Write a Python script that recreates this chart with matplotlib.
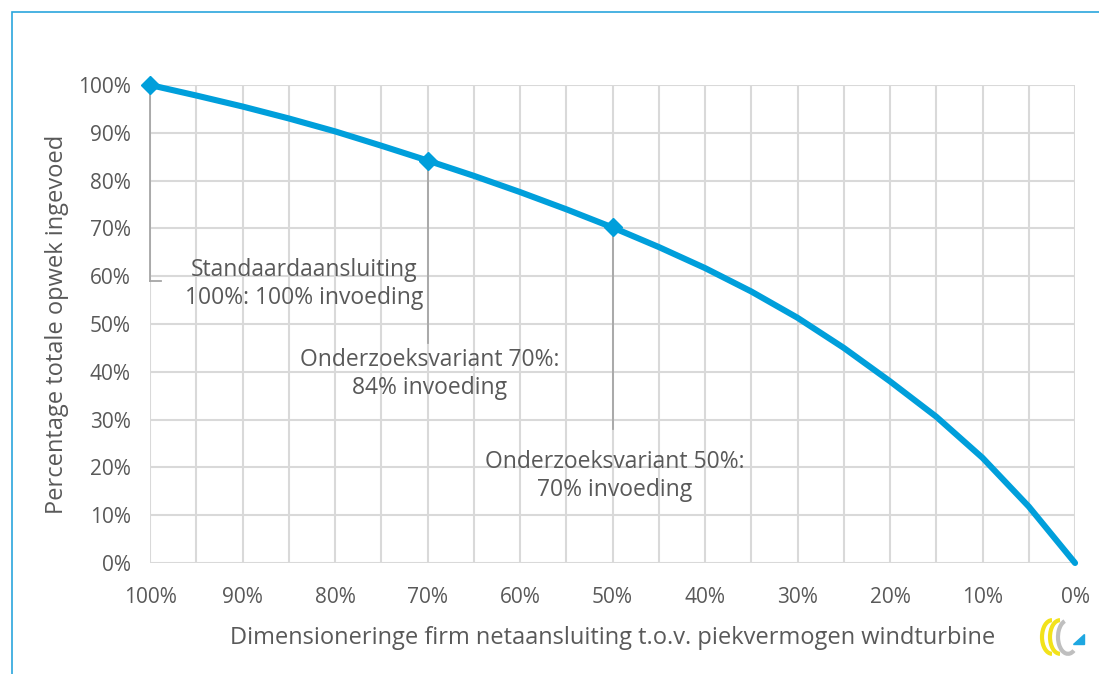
import matplotlib.pyplot as plt
from matplotlib.patches import Rectangle, Arc, Polygon
from matplotlib.ticker import FixedLocator, FuncFormatter

# dimensionering (% of peak) and share of energy fed in (%)
dim = [100, 95, 90, 85, 80, 75, 70, 65, 60, 55, 50, 45, 40, 35, 30, 25, 20, 15, 10, 5, 0]
feed = [100, 97.8, 95.5, 93.0, 90.3, 87.3, 84.2, 81.0, 77.6, 74.0, 70.2, 66.1, 61.7, 56.8, 51.3, 45.0, 38.0, 30.6, 22.0, 11.8, 0]

marked = [100, 70, 50]
labels = ["Standaardaansluiting\n100%: 100% invoeding",
          "Onderzoeksvariant 70%:\n84% invoeding",
          "Onderzoeksvariant 50%:\n70% invoeding"]
leader_end = [59, 46, 28]

blue = '#009fdb'
grey_txt = '#595959'
plt.rcParams['font.family'] = ['Open Sans', 'DejaVu Sans']

fig = plt.figure(figsize=(10.99, 6.74), dpi=100)
ax = fig.add_axes([0.1365, 0.1647, 0.8417, 0.7092])

# frame around figure
fig.patches.append(Rectangle((12 / 1099, -0.1), 1.2, 1 - 12 / 674 + 0.1, transform=fig.transFigure,
                             fill=False, edgecolor='#2aa6dd', linewidth=1.2))

ax.plot(dim, feed, color=blue, linewidth=4.4, solid_capstyle='round', zorder=3, clip_on=False)
mk_y = [feed[dim.index(m)] for m in marked]
ax.plot(marked, mk_y, linestyle='none', marker='D', markersize=9, color=blue, zorder=4, clip_on=False)

# leader lines
for m, y, e in zip(marked, mk_y, leader_end):
    ax.plot([m, m], [y, e], color='#a6a6a6', linewidth=1.3, zorder=2, clip_on=False)
ax.plot([100, 98.8], [59, 59], color='#a6a6a6', linewidth=1.3, zorder=2, clip_on=False)

ax.text(83.3, 58.4, labels[0], ha='center', va='center', fontsize=16.5, color=grey_txt, linespacing=1.2)
ax.text(69.8, 39.5, labels[1], ha='center', va='center', fontsize=16.5, color=grey_txt, linespacing=1.2)
ax.text(49.8, 18.2, labels[2], ha='center', va='center', fontsize=16.5, color=grey_txt, linespacing=1.2)

ax.set_xlim(100, 0)
ax.set_ylim(0, 100)
ax.xaxis.set_major_locator(FixedLocator(list(range(0, 101, 10))))
ax.xaxis.set_minor_locator(FixedLocator(list(range(5, 100, 10))))
ax.yaxis.set_major_locator(FixedLocator(list(range(0, 101, 10))))
pct = FuncFormatter(lambda v, p: '%d%%' % round(v))
ax.xaxis.set_major_formatter(pct)
ax.yaxis.set_major_formatter(pct)
ax.grid(True, which='both', color='#d9d9d9', linewidth=1.5, zorder=0)
ax.set_axisbelow(True)
for s in ax.spines.values():
    s.set_visible(False)
ax.tick_params(which='both', length=0, labelsize=15, labelcolor=grey_txt)
ax.tick_params(axis='x', pad=17)
ax.tick_params(axis='y', pad=14)

ax.set_xlabel('Dimensioneringe firm netaansluiting t.o.v. piekvermogen windturbine',
              fontsize=17, color=grey_txt, labelpad=13)
ax.set_ylabel('Percentage totale opwek ingevoed', fontsize=17, color=grey_txt, labelpad=6)

# small logo bottom right
lax = fig.add_axes([1036 / 1099, 16 / 674, 50 / 1099, 42 / 674])
lax.set_xlim(0, 10)
lax.set_ylim(0, 10)
lax.axis('off')
lax.add_patch(Arc((3.2, 5), 4, 8, theta1=90, theta2=270, color='#f2e21b', linewidth=3))
lax.add_patch(Arc((4.8, 5), 4, 8, theta1=90, theta2=270, color='#f2e21b', linewidth=3))
lax.add_patch(Arc((6.4, 5), 4, 8, theta1=100, theta2=290, color='#bfbfbf', linewidth=3))
lax.add_patch(Polygon([[7.4, 3.4], [9.6, 3.4], [9.6, 5.8]], color='#1ea7e1'))

fig.savefig('out.png', dpi=100)
